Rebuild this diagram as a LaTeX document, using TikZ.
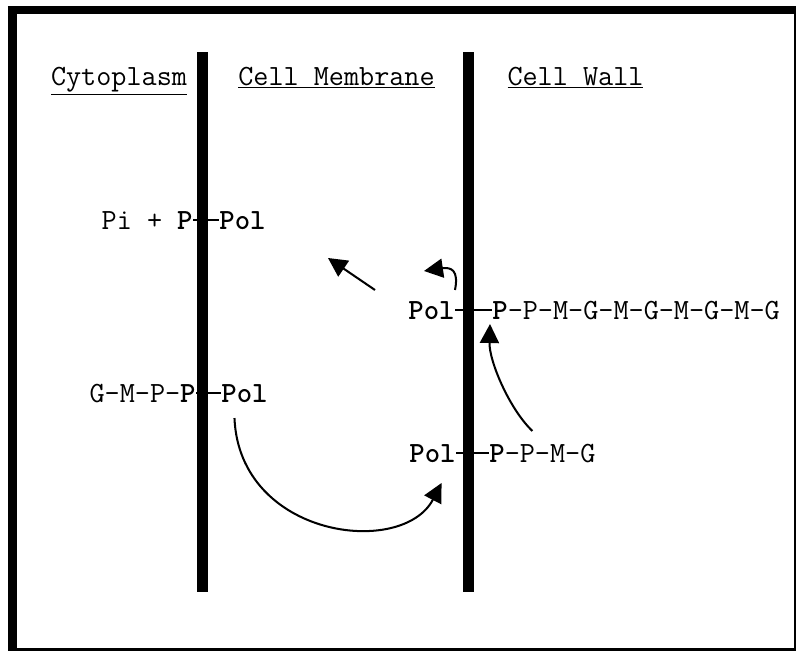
\documentclass[tikz,border=0pt]{standalone}
\usepackage{fontspec}
\usetikzlibrary{arrows.meta, calc}

\begin{document}
\begin{tikzpicture}[
      x=0.02cm, y=-0.02cm,
      every node/.style={font=\ttfamily\fontsize{16.7}{19}\selectfont, inner sep=0pt,
                         text height=11pt, text depth=0pt},
      header/.style={anchor=base},
      lefttxt/.style={anchor=east},
      righttxt/.style={anchor=west},
      membrane/.style={line width=0.22cm},
      thickrule/.style={line width=0.17cm},
      thinrule/.style={line width=0.05cm},
      bond/.style={line width=0.9pt},
      arr/.style={-{Triangle[length=0.38cm, width=0.38cm]}, line width=1.15pt},
    ]
    \useasboundingbox (0,0) rectangle (796,653);

    \draw[thickrule] (8,10) -- (796,10);
    \draw[thickrule] (12.5,6) -- (12.5,651);
    \draw[thinrule] (795,10) -- (795,650);
    \draw[thinrule] (12,649.5) -- (796,649.5);

    \node[header] (cyto) at (119,85)   {\underline{Cytoplasm}};
    \node[header] (memb) at (336.5,85) {\underline{Cell Membrane}};
    \node[header] (wall) at (575.5,85) {\underline{Cell Wall}};

    \node[lefttxt]  (pi)     at (193,220) {Pi + \textbf{P}};
    \node[righttxt] (pol1)   at (219,220) {\textbf{Pol}};
    \node[lefttxt]  (pol2)   at (455,310) {\textbf{Pol}};
    \node[righttxt] (chain2) at (492,310) {\textbf{P}-P-M-G-M-G-M-G-M-G};
    \node[lefttxt]  (gmpp)   at (196,393) {G-M-P-\textbf{P}};
    \node[righttxt] (pol3)   at (221,393) {\textbf{Pol}};
    \node[lefttxt]  (pol4)   at (456,453) {\textbf{Pol}};
    \node[righttxt] (chain4) at (489,453) {\textbf{P}-P-M-G};

    \draw[bond] (pi)   -- (pol1);
    \draw[bond] (pol2) -- (chain2);
    \draw[bond] (gmpp) -- (pol3);
    \draw[bond] (pol4) -- (chain4);

    \draw[membrane] (202.5,52) -- (202.5,592);
    \draw[membrane] (468.5,52) -- (468.5,592);

    \draw[arr] ($(pol3.south)+(-10,15)$) .. controls ($(pol3.south)+(-5,135)$)
               and ($(pol4.south)+(-30,95)$) .. ($(pol4.south)+(9,20)$);
    \draw[arr] ($(chain4.north)+(-10,-12)$) .. controls ($(chain4.north)+(-33,-34)$)
               and ($(chain2.south west)+(-3,41)$) .. ($(chain2.south west)+(-2,4)$);
    \draw[arr] ($(pol2.north east)+(0,-10)$) .. controls ($(pol2.north east)+(4,-30)$)
               and ($(pol2.north east)+(-4,-33)$) .. ($(pol2.north east)+(-31,-29)$);

    \coordinate (relstart) at (375,290);
    \coordinate (reltip)   at (328,258);
    \draw[arr] (relstart) -- (reltip);
\end{tikzpicture}
\end{document}
